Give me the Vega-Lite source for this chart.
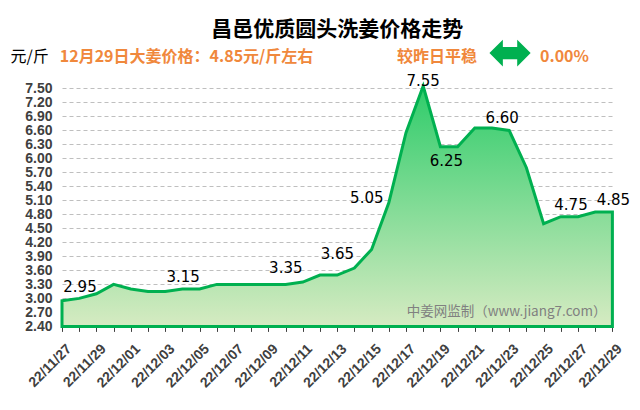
{
  "$schema": "https://vega.github.io/schema/vega-lite/v6.json",
  "width": 550.4,
  "height": 246.4,
  "autosize": {"type": "none"},
  "padding": {"left": 62, "top": 80, "right": 27.6, "bottom": 83.6},
  "background": "white",
  "config": {"view": {"stroke": null}},
  "title": {"text": "昌邑优质圆头洗姜价格走势", "font": "Noto Sans CJK SC", "fontSize": 21, "fontWeight": "bold", "color": "#000000", "anchor": "middle", "frame": "group", "offset": -14},
  "data": {"values": [
    {"date": "22/11/27", "price": 2.95},
    {"date": "22/11/28", "price": 3.00},
    {"date": "22/11/29", "price": 3.10},
    {"date": "22/11/30", "price": 3.30},
    {"date": "22/12/01", "price": 3.20},
    {"date": "22/12/02", "price": 3.15},
    {"date": "22/12/03", "price": 3.15},
    {"date": "22/12/04", "price": 3.20},
    {"date": "22/12/05", "price": 3.20},
    {"date": "22/12/06", "price": 3.30},
    {"date": "22/12/07", "price": 3.30},
    {"date": "22/12/08", "price": 3.30},
    {"date": "22/12/09", "price": 3.30},
    {"date": "22/12/10", "price": 3.30},
    {"date": "22/12/11", "price": 3.35},
    {"date": "22/12/12", "price": 3.50},
    {"date": "22/12/13", "price": 3.50},
    {"date": "22/12/14", "price": 3.65},
    {"date": "22/12/15", "price": 4.05},
    {"date": "22/12/16", "price": 5.05},
    {"date": "22/12/17", "price": 6.55},
    {"date": "22/12/18", "price": 7.55},
    {"date": "22/12/19", "price": 6.25},
    {"date": "22/12/20", "price": 6.25},
    {"date": "22/12/21", "price": 6.65},
    {"date": "22/12/22", "price": 6.65},
    {"date": "22/12/23", "price": 6.60},
    {"date": "22/12/24", "price": 5.80},
    {"date": "22/12/25", "price": 4.60},
    {"date": "22/12/26", "price": 4.75},
    {"date": "22/12/27", "price": 4.75},
    {"date": "22/12/28", "price": 4.85},
    {"date": "22/12/29", "price": 4.85}
  ]},
  "resolve": {"axis": {"x": "independent", "y": "independent"}},
  "layer": [
    {
      "mark": {"type": "area", "stroke": "#00B050", "strokeWidth": 3,
        "fill": {"x1": 0, "y1": 0, "x2": 0, "y2": 1, "gradient": "linear", "stops": [{"offset": 0, "color": "#2ECC6A"}, {"offset": 1, "color": "#D6EBC2"}]}},
      "encoding": {
        "x": {"field": "date", "type": "ordinal", "scale": {"type": "point", "padding": 0},
          "axis": {"labelExpr": "toNumber(slice(datum.value, 6)) % 2 == 1 ? datum.value : ''", "labelAngle": -45, "labelAlign": "right", "labelBaseline": "middle", "labelOffset": 7, "labelPadding": 15, "tickSize": 5, "tickColor": "#404040", "domainColor": "#404040", "domainWidth": 1.5, "labelFont": "Liberation Sans", "labelFontSize": 14, "labelFontWeight": "bold", "labelColor": "#404040", "labelOverlap": false, "grid": false,
            "title": "⬌", "titleColor": "#00B050", "titleFont": "DejaVu Sans", "titleFontSize": 54, "titleFontWeight": "normal", "titleX": 448, "titleY": -273, "titleAlign": "center", "titleBaseline": "middle"}},
        "y": {"field": "price", "type": "quantitative", "scale": {"domain": [2.4, 7.68], "zero": false, "nice": false},
          "axis": {"values": [2.4, 2.7, 3.0, 3.3, 3.6, 3.9, 4.2, 4.5, 4.8, 5.1, 5.4, 5.7, 6.0, 6.3, 6.6, 6.9, 7.2, 7.5], "format": ".2f", "domain": false, "ticks": false, "labelOverlap": false, "labelPadding": 10, "labelFont": "Liberation Sans", "labelFontSize": 14, "labelFontWeight": "bold", "labelColor": "#404040", "grid": true, "gridColor": "#BFBFBF", "gridDash": [4, 3], "gridWidth": 1,
            "title": "元/斤", "titleAngle": 0, "titleX": -52, "titleY": -19, "titleAlign": "left", "titleBaseline": "alphabetic", "titleFont": "Noto Sans CJK SC", "titleFontSize": 16, "titleFontWeight": "normal", "titleColor": "#000000"}},
        "y2": {"datum": 2.4}
      }
    },
    {
      "transform": [{"filter": "indexof(['22/11/27','22/12/03'], datum.date) >= 0"}],
      "mark": {"type": "text", "font": "DejaVu Sans", "fontSize": 15, "color": "#000000", "baseline": "alphabetic", "dx": 18, "dy": -9},
      "encoding": {
        "x": {"field": "date", "type": "ordinal",
          "axis": {"orient": "top", "domain": false, "ticks": false, "labels": false, "grid": false,
            "title": "12月29日大姜价格：4.85元/斤左右　　　　　  较昨日平稳", "titleX": -2.7, "titleY": -19, "titleAlign": "left", "titleBaseline": "alphabetic", "titleFont": "Noto Sans CJK SC", "titleFontSize": 16, "titleFontWeight": "bold", "titleColor": "#F0883C"}},
        "y": {"field": "price", "type": "quantitative",
          "axis": {"orient": "right", "domain": false, "ticks": false, "labels": false, "grid": false,
            "title": "0.00%", "titleAngle": 0, "titleX": -72.9, "titleY": -19, "titleAlign": "left", "titleBaseline": "alphabetic", "titleFont": "Noto Sans CJK SC", "titleFontSize": 16, "titleFontWeight": "bold", "titleColor": "#F0883C"}},
        "text": {"field": "price", "type": "quantitative", "format": ".2f"}
      }
    },
    {
      "transform": [{"filter": "indexof(['22/12/11','22/12/14'], datum.date) >= 0"}],
      "mark": {"type": "text", "font": "DejaVu Sans", "fontSize": 15, "color": "#000000", "baseline": "alphabetic", "dx": -17, "dy": -9},
      "encoding": {
        "x": {"field": "date", "type": "ordinal", "axis": null},
        "y": {"field": "price", "type": "quantitative", "axis": null},
        "text": {"field": "price", "type": "quantitative", "format": ".2f"}
      }
    },
    {
      "transform": [{"filter": "datum.date == '22/12/16'"}],
      "mark": {"type": "text", "font": "DejaVu Sans", "fontSize": 15, "color": "#000000", "baseline": "alphabetic", "dx": -22, "dy": 0},
      "encoding": {
        "x": {"field": "date", "type": "ordinal", "axis": null},
        "y": {"field": "price", "type": "quantitative", "axis": null},
        "text": {"field": "price", "type": "quantitative", "format": ".2f"}
      }
    },
    {
      "transform": [{"filter": "datum.date == '22/12/18'"}],
      "mark": {"type": "text", "font": "DejaVu Sans", "fontSize": 15, "color": "#000000", "baseline": "alphabetic", "dx": 0, "dy": 0},
      "encoding": {
        "x": {"field": "date", "type": "ordinal", "axis": null},
        "y": {"field": "price", "type": "quantitative", "axis": null},
        "text": {"field": "price", "type": "quantitative", "format": ".2f"}
      }
    },
    {
      "transform": [{"filter": "datum.date == '22/12/19'"}],
      "mark": {"type": "text", "font": "DejaVu Sans", "fontSize": 15, "color": "#000000", "baseline": "alphabetic", "dx": 6, "dy": 19},
      "encoding": {
        "x": {"field": "date", "type": "ordinal", "axis": null},
        "y": {"field": "price", "type": "quantitative", "axis": null},
        "text": {"field": "price", "type": "quantitative", "format": ".2f"}
      }
    },
    {
      "transform": [{"filter": "indexof(['22/12/23','22/12/27'], datum.date) >= 0"}],
      "mark": {"type": "text", "font": "DejaVu Sans", "fontSize": 15, "color": "#000000", "baseline": "alphabetic", "dx": -7, "dy": -7},
      "encoding": {
        "x": {"field": "date", "type": "ordinal", "axis": null},
        "y": {"field": "price", "type": "quantitative", "axis": null},
        "text": {"field": "price", "type": "quantitative", "format": ".2f"}
      }
    },
    {
      "transform": [{"filter": "datum.date == '22/12/29'"}],
      "mark": {"type": "text", "font": "DejaVu Sans", "fontSize": 15, "color": "#000000", "baseline": "alphabetic", "dx": 1, "dy": -7},
      "encoding": {
        "x": {"field": "date", "type": "ordinal", "axis": null},
        "y": {"field": "price", "type": "quantitative", "axis": null},
        "text": {"field": "price", "type": "quantitative", "format": ".2f"}
      }
    },
    {
      "data": {"values": [{"note": "中姜网监制（www.jiang7.com）"}]},
      "mark": {"type": "text", "font": "Noto Sans CJK SC", "fontSize": 13.5, "color": "#808080", "align": "right", "baseline": "middle", "dx": -6},
      "encoding": {
        "x": {"datum": "22/12/29", "type": "ordinal", "axis": null},
        "y": {"datum": 2.71, "type": "quantitative", "axis": null},
        "text": {"field": "note", "type": "nominal"}
      }
    }
  ]
}
